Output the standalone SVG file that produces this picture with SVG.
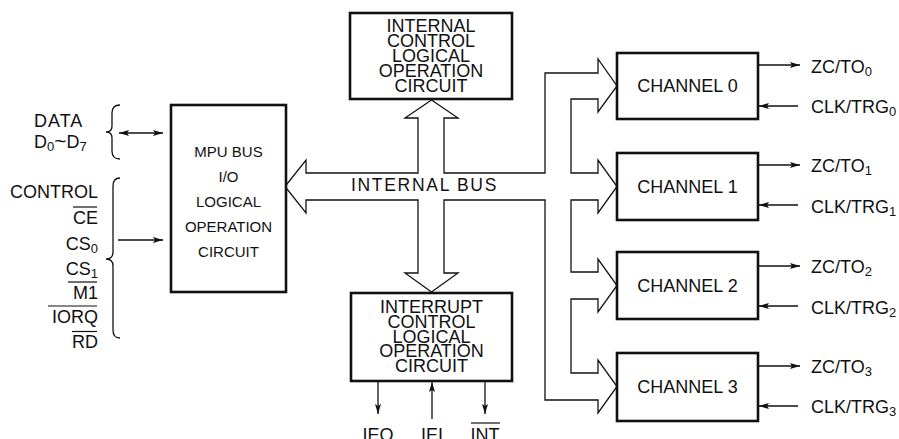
<svg xmlns="http://www.w3.org/2000/svg" width="899" height="439" viewBox="0 0 899 439">
<style>
text{font-family:"Liberation Sans",Arial,sans-serif;fill:#111}
.box{fill:#fff;stroke:#111;stroke-width:2.6}
.bus{fill:none;stroke:#111;stroke-width:1.3;stroke-linejoin:miter}
.w{fill:none;stroke:#111;stroke-width:1.3}
.ov{stroke:#111;stroke-width:1.2}
.l18{font-size:18px}
.m15{font-size:15px;text-anchor:middle}
.c18{font-size:18px;text-anchor:middle}
.r18{font-size:18px;text-anchor:end}
.sub{font-size:13px}
</style>
<defs>
<marker id="ah" viewBox="0 0 10 6" refX="10" refY="3" markerWidth="10" markerHeight="6" markerUnits="userSpaceOnUse" orient="auto-start-reverse">
<path d="M0,0 L10,3 L0,6 L2,3 Z" fill="#111"/>
</marker>
</defs>

<g id="connectors">
<path class="bus" d="M285,186.5 L306,160 L306,173 L418,173 L418,118 L405,118 L431.5,100 L458,118 L444,118 L444,173 L545,173 L545,73 L598,73 L598,59 L617,86 L598,112 L598,99 L571,99 L571,173 L598,173 L598,160 L617,186.5 L598,213 L598,200 L571,200 L571,272 L598,272 L598,259 L617,285.5 L598,312 L598,299 L571,299 L571,373 L598,373 L598,360 L617,386.5 L598,413 L598,400 L545,400 L545,200 L444,200 L444,273 L458,273 L431.5,292 L405,273 L418,273 L418,200 L306,200 L306,213 Z"/>
<text x="424.5" y="190.5" class="c18" style="font-size:17.5px;letter-spacing:1.7px">INTERNAL BUS</text>
<path class="w" d="M120,105 Q112,105 112,113 L112,126 Q112,132 106,132 Q112,132 112,138 L112,151 Q112,159 120,159"/>
<path class="w" d="M120,178 Q113,178 113,186 L113,252 Q113,259 106,259 Q113,259 113,266 L113,330 Q113,338 120,338"/>
<line class="w" x1="119" y1="133" x2="163" y2="133" marker-start="url(#ah)" marker-end="url(#ah)"/>
<line class="w" x1="118" y1="240" x2="163" y2="240" marker-end="url(#ah)"/>
<line class="w" x1="378" y1="381" x2="378" y2="414" marker-end="url(#ah)"/>
<line class="w" x1="432" y1="419" x2="432" y2="382" marker-end="url(#ah)"/>
<line class="w" x1="485" y1="381" x2="485" y2="414" marker-end="url(#ah)"/>
<line class="w" x1="758" y1="65" x2="800" y2="65" marker-end="url(#ah)"/>
<line class="w" x1="798" y1="106" x2="759" y2="106" marker-end="url(#ah)"/>
<line class="w" x1="758" y1="165" x2="800" y2="165" marker-end="url(#ah)"/>
<line class="w" x1="798" y1="205" x2="759" y2="205" marker-end="url(#ah)"/>
<line class="w" x1="758" y1="266" x2="800" y2="266" marker-end="url(#ah)"/>
<line class="w" x1="798" y1="306" x2="759" y2="306" marker-end="url(#ah)"/>
<line class="w" x1="758" y1="366" x2="800" y2="366" marker-end="url(#ah)"/>
<line class="w" x1="798" y1="406" x2="759" y2="406" marker-end="url(#ah)"/>
</g>

<g id="mpu">
<rect class="box" x="171" y="105" width="115" height="187"/>
<text class="m15" x="228.5" y="157">MPU BUS</text>
<text class="m15" x="228.5" y="182">I/O</text>
<text class="m15" x="228.5" y="207">LOGICAL</text>
<text class="m15" x="228.5" y="232">OPERATION</text>
<text class="m15" x="228.5" y="257">CIRCUIT</text>
</g>

<g id="internal-control">
<rect class="box" x="350" y="13" width="162" height="86"/>
<text class="c18" x="431" y="32">INTERNAL</text>
<text class="c18" x="431" y="47">CONTROL</text>
<text class="c18" x="431" y="62">LOGICAL</text>
<text class="c18" x="431" y="77">OPERATION</text>
<text class="c18" x="431" y="92">CIRCUIT</text>
</g>

<g id="interrupt-control">
<rect class="box" x="351" y="293" width="161" height="88"/>
<text class="c18" x="431.5" y="313">INTERRUPT</text>
<text class="c18" x="431.5" y="328">CONTROL</text>
<text class="c18" x="431.5" y="343">LOGICAL</text>
<text class="c18" x="431.5" y="357">OPERATION</text>
<text class="c18" x="431.5" y="372">CIRCUIT</text>
</g>

<g id="channel0">
<rect class="box" x="617" y="53" width="141" height="66"/>
<text class="c18" x="687.5" y="92">CHANNEL 0</text>
</g>
<g id="channel1">
<rect class="box" x="617" y="153" width="141" height="67"/>
<text class="c18" x="687.5" y="193">CHANNEL 1</text>
</g>
<g id="channel2">
<rect class="box" x="617" y="252" width="141" height="67"/>
<text class="c18" x="687.5" y="292">CHANNEL 2</text>
</g>
<g id="channel3">
<rect class="box" x="617" y="353" width="141" height="68"/>
<text class="c18" x="687.5" y="393">CHANNEL 3</text>
</g>

<g id="data-label">
<text class="l18" x="34" y="127" style="letter-spacing:1px">DATA</text>
<text class="l18" x="34" y="148">D<tspan class="sub" dy="3">0</tspan><tspan dy="-3" style="font-size:21px">~</tspan>D<tspan class="sub" dy="3">7</tspan></text>
</g>

<g id="control-labels">
<text class="r18" x="98" y="198">CONTROL</text>
<text class="r18" x="98" y="223.5">CE</text>
<text class="r18" x="98" y="250">CS<tspan class="sub" dy="3">0</tspan></text>
<text class="r18" x="98" y="275">CS<tspan class="sub" dy="3">1</tspan></text>
<text class="r18" x="98" y="298.5">M1</text>
<text class="r18" x="98" y="323">IORQ</text>
<text class="r18" x="98" y="348">RD</text>
<line class="ov" x1="73" y1="207" x2="97" y2="207"/>
<line class="ov" x1="68" y1="282" x2="97" y2="282"/>
<line class="ov" x1="48" y1="306" x2="97" y2="306"/>
<line class="ov" x1="72" y1="331.5" x2="97" y2="331.5"/>
</g>

<g id="interrupt-signals">
<text class="c18" x="378" y="441">IEO</text>
<text class="c18" x="432" y="441">IEI</text>
<text class="c18" x="485" y="441">INT</text>
<line class="ov" x1="471" y1="423" x2="500" y2="423"/>
</g>

<g id="channel-signals">
<text class="l18" x="811" y="73">ZC/TO<tspan class="sub" dy="3">0</tspan></text>
<text class="l18" x="811" y="113">CLK/TRG<tspan class="sub" dy="3">0</tspan></text>
<text class="l18" x="811" y="172">ZC/TO<tspan class="sub" dy="3">1</tspan></text>
<text class="l18" x="811" y="213">CLK/TRG<tspan class="sub" dy="3">1</tspan></text>
<text class="l18" x="811" y="273">ZC/TO<tspan class="sub" dy="3">2</tspan></text>
<text class="l18" x="811" y="314">CLK/TRG<tspan class="sub" dy="3">2</tspan></text>
<text class="l18" x="811" y="373">ZC/TO<tspan class="sub" dy="3">3</tspan></text>
<text class="l18" x="811" y="413">CLK/TRG<tspan class="sub" dy="3">3</tspan></text>
</g>
</svg>
